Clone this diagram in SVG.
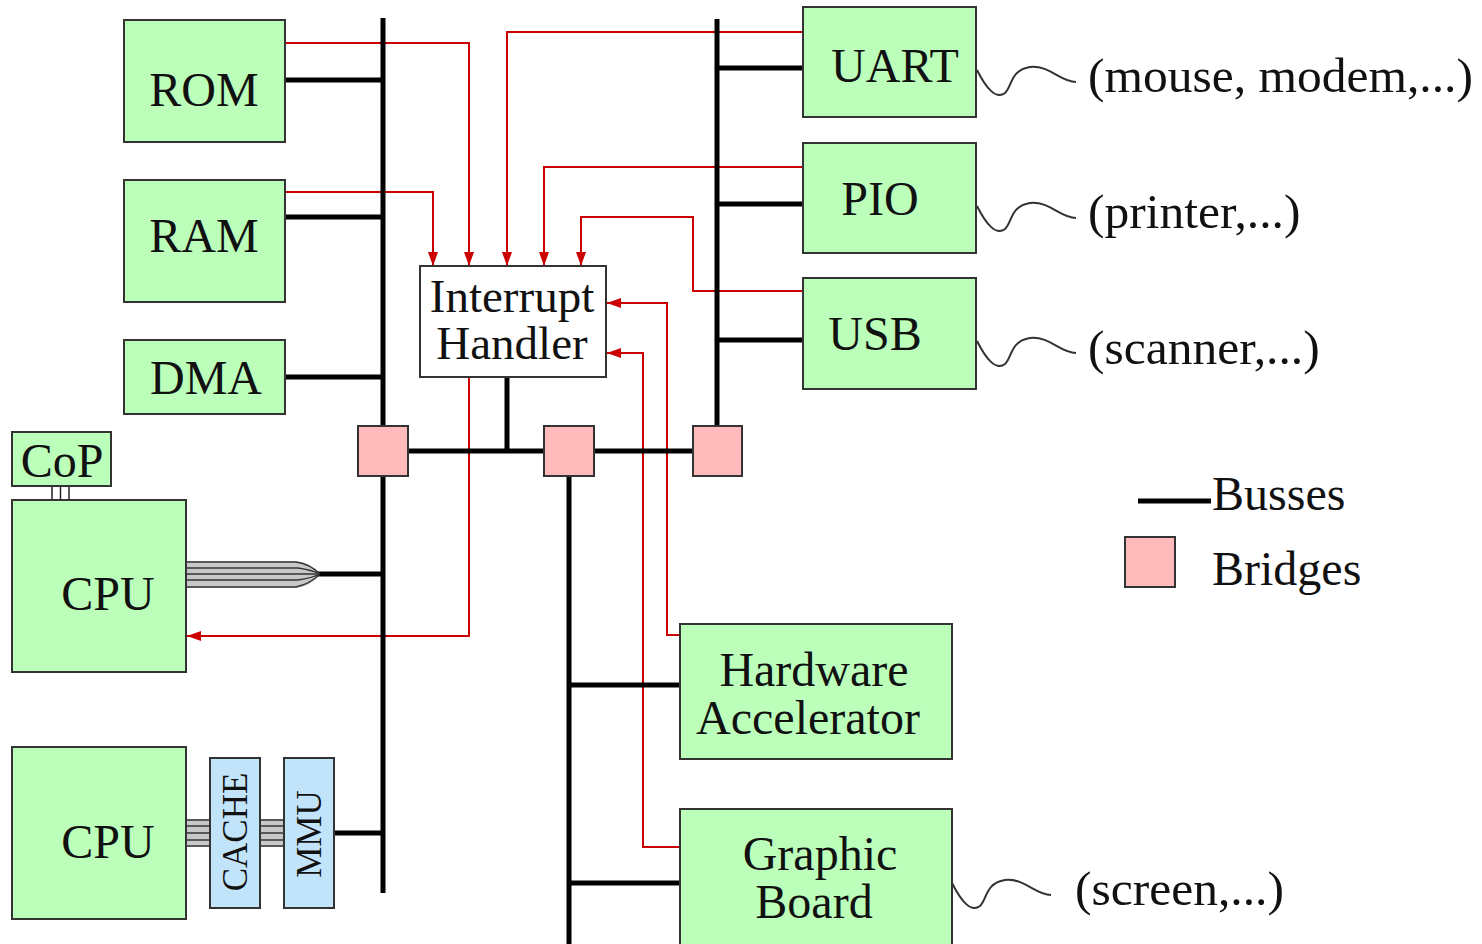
<svg xmlns="http://www.w3.org/2000/svg" width="1482" height="944" viewBox="0 0 1482 944">
<style>
text{font-family:"Liberation Serif","Times New Roman",serif;font-size:48px;fill:#111}
.lbl{font-size:49.5px}
.box{fill:#bbffbb;stroke:#333;stroke-width:2}
.br{fill:#ffbbbb;stroke:#333;stroke-width:2}
.bl{fill:#c2e4fa;stroke:#333;stroke-width:2}
.bus{stroke:#000;stroke-width:5;fill:none}
.irq{stroke:#cc0000;stroke-width:2;fill:none}
.arr{marker-end:url(#ah)}
.ml{stroke:#333;stroke-width:1.3;fill:none}
.sq{stroke:#333;stroke-width:2;fill:none}
.mid{text-anchor:middle}
</style>
<defs>
<marker id="ah" markerUnits="userSpaceOnUse" markerWidth="14" markerHeight="10" viewBox="0 0 14 10" refX="14" refY="5" orient="auto">
<path d="M0,0 L14,5 L0,10 z" fill="#cc0000"/>
</marker>
<path id="tilde" d="M977,70 C986,88 996,100 1005,93 C1012,87 1010,70 1030,67 C1050,65 1060,82 1076,82"/>
</defs>

<g id="connectors">
<polyline class="irq arr" points="285,43 469,43 469,266"/>
<polyline class="irq arr" points="285,192 433,192 433,266"/>
<polyline class="irq arr" points="803,32 507,32 507,266"/>
<polyline class="irq arr" points="803,167 544,167 544,266"/>
<polyline class="irq arr" points="803,291 693,291 693,217 581,217 581,266"/>
<polyline class="irq arr" points="680,635 667,635 667,303 607,303"/>
<polyline class="irq arr" points="680,847 643,847 643,353 607,353"/>
<polyline class="irq arr" points="469,377 469,636 187,636"/>
<line class="bus" x1="383" y1="18" x2="383" y2="893"/>
<line class="bus" x1="717" y1="19" x2="717" y2="426"/>
<line class="bus" x1="569" y1="476" x2="569" y2="944"/>
<line class="bus" x1="408" y1="451" x2="692" y2="451"/>
<line class="bus" x1="507" y1="377" x2="507" y2="451"/>
<line class="bus" x1="285" y1="80" x2="383" y2="80"/>
<line class="bus" x1="285" y1="217" x2="383" y2="217"/>
<line class="bus" x1="285" y1="377" x2="383" y2="377"/>
<line class="bus" x1="318" y1="574" x2="383" y2="574"/>
<line class="bus" x1="334" y1="833" x2="383" y2="833"/>
<line class="bus" x1="717" y1="68" x2="803" y2="68"/>
<line class="bus" x1="717" y1="204" x2="803" y2="204"/>
<line class="bus" x1="717" y1="340" x2="803" y2="340"/>
<line class="bus" x1="569" y1="685" x2="680" y2="685"/>
<line class="bus" x1="569" y1="883" x2="680" y2="883"/>
<path d="M186,561 L296,561 Q312,563 320,574 Q312,586 296,588 L186,588 z" fill="#c8c8c8"/>
<path class="ml" d="M186,562 L296,562 Q310,564 320,574"/>
<path class="ml" d="M186,568 L298,568 Q312,570 320,574"/>
<path class="ml" d="M186,574 L320,574"/>
<path class="ml" d="M186,580 L298,580 Q312,578 320,574"/>
<path class="ml" d="M186,587 L296,587 Q310,584 320,574"/>
<rect x="186" y="819" width="24" height="28" fill="#c8c8c8"/>
<rect x="260" y="819" width="24" height="28" fill="#c8c8c8"/>
<path class="ml" d="M186,820 H210 M186,826 H210 M186,833 H210 M186,840 H210 M186,846 H210 M260,820 H284 M260,826 H284 M260,833 H284 M260,840 H284 M260,846 H284"/>
<rect x="52" y="486" width="17" height="14" fill="#fff" stroke="#222" stroke-width="1.5"/>
<line x1="60.5" y1="486" x2="60.5" y2="500" stroke="#222" stroke-width="1.5"/>
<use href="#tilde" class="sq"/>
<use href="#tilde" class="sq" transform="translate(0,136)"/>
<use href="#tilde" class="sq" transform="translate(0,271)"/>
<use href="#tilde" class="sq" transform="translate(-25,813)"/>
</g>

<g id="rom"><rect class="box" x="124" y="20" width="161" height="122"/><text class="mid" x="204" y="106">ROM</text></g>
<g id="ram"><rect class="box" x="124" y="180" width="161" height="122"/><text class="mid" x="204" y="252">RAM</text></g>
<g id="dma"><rect class="box" x="124" y="340" width="161" height="74"/><text class="mid" x="206" y="394">DMA</text></g>
<g id="cop"><rect class="box" x="12" y="432" width="99" height="54"/><text class="mid" x="62" y="477">CoP</text></g>
<g id="cpu1"><rect class="box" x="12" y="500" width="174" height="172"/><text class="mid" x="108" y="610">CPU</text></g>
<g id="cpu2"><rect class="box" x="12" y="747" width="174" height="172"/><text class="mid" x="108" y="858">CPU</text></g>
<g id="cache"><rect class="bl" x="210" y="758" width="50" height="150"/><text class="mid" style="font-size:35px" transform="translate(247,832) rotate(-90)">CACHE</text></g>
<g id="mmu"><rect class="bl" x="284" y="758" width="50" height="150"/><text class="mid" style="font-size:35px" transform="translate(321,834) rotate(-90)">MMU</text></g>
<g id="bridge1"><rect class="br" x="358" y="426" width="50" height="50"/></g>
<g id="bridge2"><rect class="br" x="544" y="426" width="50" height="50"/></g>
<g id="bridge3"><rect class="br" x="693" y="426" width="49" height="50"/></g>
<g id="interrupt-handler"><rect x="420" y="266" width="186" height="111" fill="#fff" stroke="#333" stroke-width="2"/><text class="mid" x="512" y="312" style="font-size:47px">Interrupt</text><text class="mid" x="512" y="359" style="font-size:47px">Handler</text></g>
<g id="uart"><rect class="box" x="803" y="7" width="173" height="110"/><text class="mid" x="895" y="82">UART</text></g>
<g id="pio"><rect class="box" x="803" y="143" width="173" height="110"/><text class="mid" x="880" y="215">PIO</text></g>
<g id="usb"><rect class="box" x="803" y="278" width="173" height="111"/><text class="mid" x="875" y="350">USB</text></g>
<g id="hw-accel"><rect class="box" x="680" y="624" width="272" height="135"/><text class="mid" x="814" y="686">Hardware</text><text class="mid" x="808" y="734">Accelerator</text></g>
<g id="graphic-board"><rect class="box" x="680" y="809" width="272" height="140"/><text class="mid" x="820" y="870">Graphic</text><text class="mid" x="814" y="918">Board</text></g>

<g id="labels">
<text class="lbl" x="1088" y="92">(mouse, modem,...)</text>
<text class="lbl" x="1088" y="228">(printer,...)</text>
<text class="lbl" x="1088" y="364">(scanner,...)</text>
<text class="lbl" x="1075" y="905">(screen,...)</text>
</g>
<g id="legend">
<line class="bus" x1="1138" y1="501" x2="1211" y2="501"/>
<text x="1212" y="510">Busses</text>
<rect class="br" x="1125" y="537" width="50" height="50"/>
<text x="1212" y="585">Bridges</text>
</g>
</svg>
